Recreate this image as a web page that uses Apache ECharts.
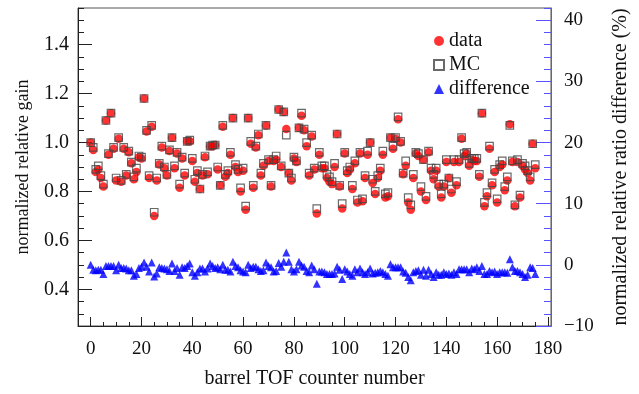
<!DOCTYPE html>
<html>
<head>
<meta charset="utf-8">
<script src="https://cdn.jsdelivr.net/npm/echarts@6/dist/echarts.min.js"></script>
<style>html,body{margin:0;padding:0;background:#fff}#c{width:639px;height:394px}</style>
</head>
<body>
<div id="c"></div>
<script>
// normalized relative gain, data (counter 0..175)
const dataGain = [
1.00,0.97,0.88,0.89,0.855,0.82,1.09,0.95,1.12,0.975,
0.845,1.015,0.84,0.975,0.865,0.96,0.915,0.85,0.88,0.94,
0.935,1.18,1.045,0.855,1.065,0.70,0.845,0.91,0.98,0.895,
0.865,0.965,1.02,0.895,0.955,0.815,0.935,0.865,1.005,1.005,
0.925,0.84,0.875,0.81,0.865,0.94,0.87,0.985,0.985,0.99,
0.89,0.825,1.065,0.86,0.875,0.95,1.10,0.90,0.88,0.80,
0.885,0.725,1.10,0.995,0.815,0.98,1.03,0.865,0.905,1.07,
0.925,0.82,0.925,0.93,1.135,0.90,1.125,1.055,0.875,0.845,
0.935,0.92,1.06,1.11,1.05,0.985,0.865,1.025,0.89,0.71,
0.95,0.895,0.895,0.855,0.84,0.83,0.90,1.035,0.82,0.73,
0.955,0.875,0.89,0.81,0.915,0.755,0.955,0.76,0.855,0.95,
1.00,0.835,0.79,0.855,0.885,0.95,0.775,0.78,1.02,0.975,
1.015,1.095,1.00,0.87,0.905,0.755,0.725,0.855,0.955,0.945,
0.80,0.93,0.765,0.96,0.885,0.85,0.885,0.82,0.775,0.82,
0.92,0.855,0.795,0.92,0.825,0.92,1.015,0.945,0.955,0.905,
0.93,0.925,0.925,0.86,1.12,0.74,0.78,0.975,0.825,0.88,
0.755,0.90,0.91,0.805,0.845,1.075,0.92,0.74,0.92,0.775,
0.905,0.89,0.875,0.845,0.995,0.895];
// normalized relative gain, MC
const mcGain = [
1.00,0.98,0.89,0.905,0.865,0.83,1.09,0.955,1.12,0.98,
0.855,1.02,0.845,0.98,0.87,0.965,0.92,0.86,0.895,0.945,
0.94,1.18,1.05,0.865,1.07,0.715,0.855,0.915,0.985,0.90,
0.87,0.97,1.02,0.905,0.96,0.83,0.94,0.875,1.005,1.01,
0.935,0.85,0.885,0.81,0.87,0.945,0.88,0.985,0.99,0.99,
0.90,0.825,1.07,0.87,0.885,0.96,1.10,0.91,0.89,0.815,
0.895,0.74,1.10,1.005,0.825,0.985,1.035,0.875,0.915,1.07,
0.93,0.825,0.93,0.945,1.135,0.905,1.125,1.03,0.875,0.855,
0.94,0.925,1.06,1.12,1.055,1.00,0.875,1.03,0.895,0.73,
0.96,0.905,0.905,0.87,0.86,0.84,0.915,1.035,0.825,0.75,
0.96,0.885,0.90,0.825,0.925,0.765,0.96,0.77,0.865,0.965,
1.00,0.85,0.80,0.865,0.895,0.965,0.79,0.795,1.02,0.985,
1.02,1.105,1.005,0.875,0.925,0.775,0.745,0.87,0.96,0.955,
0.82,0.93,0.78,0.965,0.895,0.87,0.895,0.83,0.79,0.83,
0.93,0.855,0.81,0.93,0.84,0.93,1.02,0.955,0.96,0.915,
0.935,0.935,0.935,0.87,1.12,0.755,0.795,0.985,0.835,0.89,
0.77,0.91,0.925,0.82,0.86,1.07,0.925,0.745,0.93,0.785,
0.915,0.905,0.885,0.86,0.995,0.91];
// normalized relative ratio difference (%)
const diffPct = [
0,-0.8,-0.9,-0.8,-0.8,-1.5,-0.2,-0.2,-0.2,-0.2,
-0.9,0,-0.5,-0.5,-0.6,-0.9,-0.9,-1.8,-1.5,-0.5,
-0.3,0.4,-0.3,-1.1,0.4,-1.9,-1.4,-0.4,-0.5,-0.6,
-0.7,-1.0,0.2,-1.0,-0.5,-1.6,-0.4,-0.5,-0.2,0.2,
-1.2,-1.8,-1.2,-0.6,-0.6,-1.1,-0.6,0.2,-0.2,-0.5,
-0.4,-0.7,0,-0.8,-0.8,-1.1,0.5,-0.2,-0.4,-0.9,
-1.1,-1.2,0,-0.5,-0.3,-0.3,-0.7,-1.0,-0.9,0.4,
-0.2,-0.4,-1.1,-1.0,0.3,-0.3,0.5,2.0,0.5,-0.7,
-1.1,-0.7,0.5,-0.1,-0.3,-1.0,-1.2,-0.1,-0.7,-3.1,
-1.1,-1.1,-1.2,-1.5,-1.5,-1.5,-1.4,-0.3,-0.8,-2.3,
-0.7,-1.1,-1.5,-1.8,-0.7,-1.2,-0.6,-1.2,-1.5,-1.2,
-0.6,-1.4,-1.3,-1.2,-1.0,-1.2,-1.5,-1.8,0.1,-0.4,
-0.4,-0.4,-0.4,-1.1,-1.3,-2.0,-2.5,-1.2,-1.0,-0.9,
-1.6,-0.8,-1.8,-0.8,-1.5,-2.0,-1.2,-1.6,-1.6,-1.2,
-1.5,-1.4,-1.6,-1.2,-1.5,-0.7,-0.7,-0.7,-0.7,-1.2,
-0.6,-0.7,-0.4,-1.0,-0.2,-1.5,-1.5,-1.0,-1.2,-1.1,
-1.5,-1.2,-1.2,-1.2,-1.3,0.9,-0.4,-1.0,-1.0,-1.2,
-1.5,-2.0,-1.6,-0.4,-0.5,-1.5];
const xTickLabels = [0,20,40,60,80,100,120,140,160,180];
const leftTickLabels = [0.4,0.6,0.8,1.0,1.2,1.4];
const rightTickLabels = [-10,0,10,20,30,40];

const FONT = 'Liberation Serif';
const pairs = arr => arr.map((v, i) => [i, v]);
function range(a, b, s) { const r = []; for (let v = a; v <= b + 1e-9; v += s) r.push(+v.toFixed(4)); return r; }

const xMinor = range(-5, 180, 5);
const leftMinor = range(0.25, 1.55, 0.05);
const rightMinor = range(-10, 42, 2);

const chart = echarts.init(document.getElementById('c'), null, {renderer: 'canvas'});
chart.setOption({
  animation: false,
  backgroundColor: '#fff',
  grid: {left: 78, right: 86, top: 8, bottom: 64, show: true, borderColor: '#555', borderWidth: 1},
  legend: {
    orient: 'vertical', left: 428, top: 26, itemGap: 4, itemWidth: 10, itemHeight: 10,
    textStyle: {fontFamily: FONT, fontSize: 20, color: '#111'},
    data: ['data', 'MC', 'difference']
  },
  xAxis: [
    {type: 'value', min: -5, max: 181.2, position: 'bottom',
     name: 'barrel TOF counter number', nameLocation: 'middle', nameGap: 43,
     nameTextStyle: {fontFamily: FONT, fontSize: 20, color: '#111'},
     axisLine: {show: true, onZero: false, lineStyle: {color: '#222'}},
     axisTick: {show: true, inside: true, length: 4, customValues: xMinor, lineStyle: {color: '#222'}},
     axisLabel: {customValues: xTickLabels, fontFamily: FONT, fontSize: 19, color: '#111', margin: 14},
     splitLine: {show: false}},
    {type: 'value', min: -5, max: 181.2, position: 'bottom', gridIndex: 0,
     axisLine: {show: false, onZero: false},
     axisTick: {show: true, inside: true, length: 9, customValues: xTickLabels, lineStyle: {color: '#222'}},
     axisLabel: {show: false}, splitLine: {show: false}}
  ],
  yAxis: [
    {type: 'value', min: 0.25, max: 1.55, position: 'left',
     name: 'normalized relative gain', nameLocation: 'middle', nameGap: 46,
     nameTextStyle: {fontFamily: FONT, fontSize: 18, color: '#111'},
     axisLine: {show: true, onZero: false, lineStyle: {color: '#222'}},
     axisTick: {show: true, inside: true, length: 6, customValues: leftMinor, lineStyle: {color: '#222'}},
     axisLabel: {customValues: leftTickLabels, formatter: v => v.toFixed(1), fontFamily: FONT, fontSize: 20, color: '#111', margin: 9},
     splitLine: {show: false}},
    {type: 'value', min: -10, max: 42, position: 'right',
     name: 'normalized relative ratio difference (%)', nameLocation: 'middle', nameGap: 60, nameRotate: 90,
     nameTextStyle: {fontFamily: FONT, fontSize: 20, color: '#111'},
     axisLine: {show: true, onZero: false, lineStyle: {color: '#5555ff'}},
     axisTick: {show: true, inside: true, length: 7, customValues: rightMinor, lineStyle: {color: '#5555ff'}},
     axisLabel: {customValues: rightTickLabels, formatter: v => (v < 0 ? '\u2212' + Math.abs(v) : '' + v), fontFamily: FONT, fontSize: 19, color: '#111', margin: 13},
     splitLine: {show: false}},
    {type: 'value', min: 0.25, max: 1.55, position: 'left',
     axisLine: {show: false, onZero: false},
     axisTick: {show: true, inside: true, length: 14, customValues: leftTickLabels, lineStyle: {color: '#222'}},
     axisLabel: {show: false}, splitLine: {show: false}},
    {type: 'value', min: -10, max: 42, position: 'right',
     axisLine: {show: false, onZero: false},
     axisTick: {show: true, inside: true, length: 15, customValues: rightTickLabels, lineStyle: {color: '#5555ff'}},
     axisLabel: {show: false}, splitLine: {show: false}}
  ],
  series: [
    {name: 'data', type: 'scatter', xAxisIndex: 0, yAxisIndex: 0, data: pairs(dataGain),
     symbol: 'circle', symbolSize: 8.5, itemStyle: {color: '#ff0000'}, z: 3},
    {name: 'MC', type: 'scatter', xAxisIndex: 0, yAxisIndex: 0, data: pairs(mcGain),
     symbol: 'rect', symbolSize: 7.5, itemStyle: {color: 'rgba(255,255,255,0)', borderColor: '#444', borderWidth: 1.2}, z: 4},
    {name: 'difference', type: 'scatter', xAxisIndex: 0, yAxisIndex: 1, data: pairs(diffPct),
     symbol: 'triangle', symbolSize: 8, itemStyle: {color: '#0000ff'}, z: 3}
  ]
});
</script>
</body>
</html>
